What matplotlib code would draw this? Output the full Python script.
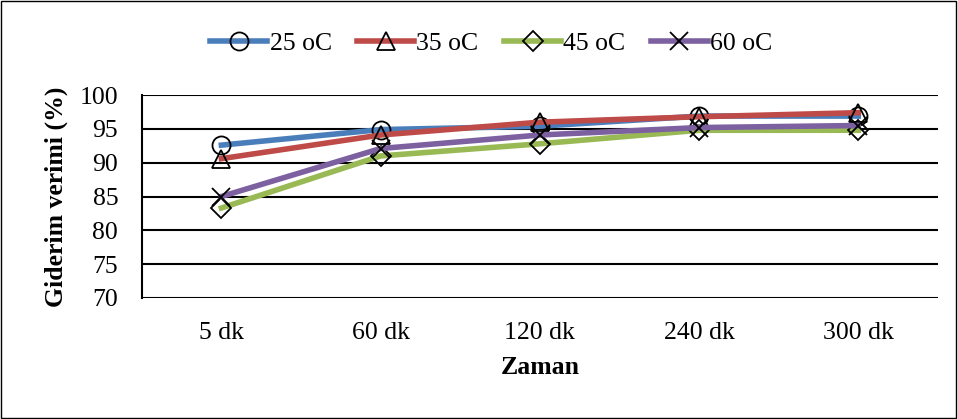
import matplotlib
matplotlib.use("Agg")
import matplotlib.pyplot as plt
from matplotlib.patches import Rectangle

plt.rcParams['font.family'] = ['Liberation Serif', 'DejaVu Serif']

categories = ["5 dk", "60 dk", "120 dk", "240 dk", "300 dk"]
series_names = ["25 oC", "35 oC", "45 oC", "60 oC"]
t25 = [92.6, 94.9, 95.4, 96.9, 96.9]
t35 = [90.6, 94.1, 96.0, 96.8, 97.4]
t45 = [83.3, 91.0, 92.8, 94.8, 94.8]
t60 = [85.0, 92.1, 94.1, 95.2, 95.5]
ytick_values = [70, 75, 80, 85, 90, 95, 100]

colors = ["#4a7ebb", "#be4b48", "#98b954", "#7d60a0"]
markers = ["o", "^", "D", "x"]
msizes = [13, 13, 10, 13]

fig = plt.figure(figsize=(9.58, 4.19), dpi=100)
fig.patches.append(Rectangle((0.001, 0.002), 0.997, 0.995, transform=fig.transFigure,
                             fill=False, edgecolor="black", linewidth=1.0))
ax = fig.add_axes([0.148, 0.289, 0.831, 0.484])

x = list(range(len(categories)))
for vals, name, c, m, ms in zip([t25, t35, t45, t60], series_names, colors, markers, msizes):
    ax.plot(x, vals, color=c, linewidth=4, marker=m, markersize=ms,
            markerfacecolor="none", markeredgecolor="black", markeredgewidth=1.3,
            label=name, zorder=3)

ax.set_xlim(-0.5, len(categories) - 0.5)
ax.set_ylim(70, 100)
ax.set_yticks(ytick_values)
ax.set_xticks(x)
ax.set_xticklabels(categories)
ax.tick_params(axis="both", length=0, labelsize=18.5, pad=17)
ax.grid(axis="y", color="black", linewidth=1.5, zorder=1)
for s in ["top", "right", "bottom"]:
    ax.spines[s].set_visible(False)
ax.spines["left"].set_linewidth(1.5)

ax.set_ylabel("Giderim verimi (%)", fontsize=18.5, fontweight="bold", labelpad=8)
ax.set_xlabel("Zaman", fontsize=18.5, fontweight="bold", labelpad=9)

fig.legend(loc="center", bbox_to_anchor=(0.513, 0.897), ncol=4, frameon=False,
           fontsize=18.5, handlelength=2.2, handletextpad=0.1, columnspacing=1.0)

fig.savefig("out.png", dpi=100)
